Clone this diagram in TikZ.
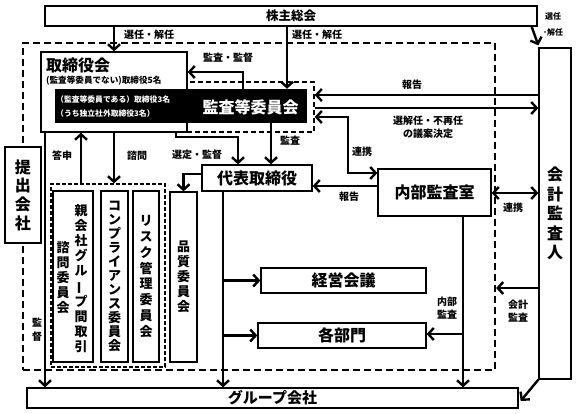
\documentclass[tikz,border=0pt]{standalone}
\usepackage{fontspec}
\setmainfont{Noto Sans CJK JP}
\usepackage{graphicx}
\usetikzlibrary{arrows.meta,calc}
\newcommand{\vbar}{\rotatebox[origin=c]{90}{ー}}
\tikzset{
  box/.style={draw, line width=1.3pt, fill=white, inner sep=0pt},
  arr/.style={line width=2.4pt, -{Straight Barb[length=5.5pt,width=12pt]}},
  darr/.style={line width=2.4pt, {Straight Barb[length=5.5pt,width=12pt]}-{Straight Barb[length=5.5pt,width=12pt]}},
  lbl/.style={font=\fontsize{10}{13}\selectfont\bfseries, inner sep=0pt, align=center},
  big/.style={font=\fontsize{16}{18}\selectfont\bfseries},
  vt/.style={align=center, font=\fontsize{13}{#1}\selectfont\bfseries},
  dbox/.style={draw, inner sep=0pt}
}
\begin{document}
\begin{tikzpicture}[x=1pt,y=-1pt]
\useasboundingbox (0,0) rectangle (576,413);
% helper coordinates
\coordinate (xb) at (287,0);
\coordinate (xd) at (243,0);
\coordinate (yd) at (0,72);
\coordinate (ye) at (0,95);
\coordinate (yf) at (0,108);
\coordinate (yg) at (0,117);
\coordinate (yg2) at (0,173);
\coordinate (xg) at (348,0);
\coordinate (xh1) at (176,0);
\coordinate (yh) at (0,137);
\coordinate (xh2) at (238,0);
\coordinate (xi) at (271,0);
\coordinate (yj) at (0,186);
\coordinate (yk) at (0,193);
\coordinate (yl) at (0,288);
\coordinate (xm) at (463,0);
\coordinate (ym) at (0,334);
\coordinate (xn) at (223,0);
\coordinate (yo) at (0,174);
\coordinate (xp) at (81,0);
\coordinate (xq) at (114,0);
\coordinate (xr) at (45,0);

% outer dashed frame
\node[dbox, line width=2.2pt, dash pattern=on 7pt off 4pt, minimum width=472pt, minimum height=327pt] (outer) at (259,206.5) {};

% boxes
\node[box, minimum width=492pt, minimum height=20pt, font=\fontsize{12.5}{14}\selectfont\bfseries] (kabu) at (291,16) {株主総会};
\node[box, minimum width=146pt, minimum height=80pt] (tori) at (114,92) {};
\node[anchor=west, big, inner sep=0pt] (toriT) at (46,65) {取締役会};
\node[anchor=west, inner sep=0pt, font=\fontsize{8.6}{10}\selectfont\bfseries] (toriS) at (46,81) {(監査等委員でない)取締役5名};
\node[dbox, line width=1.4pt, dash pattern=on 5pt off 3pt, minimum width=127pt, minimum height=50pt] (kdash) at (250.5,107) {};
\node[fill=black, inner sep=0pt, minimum width=252pt, minimum height=34pt] (kansa) at (181,106) {};
\node[anchor=west, inner sep=0pt, text=white, font=\fontsize{7.8}{9}\selectfont\bfseries] (ks1) at (56,100) {（監査等委員である）取締役3名};
\node[anchor=west, inner sep=0pt, text=white, font=\fontsize{7.8}{9}\selectfont\bfseries] (ks2) at (56,114) {（うち独立社外取締役3名）};
\node[text=white, big, inner sep=0pt] (kansaT) at (250.5,107) {監査等委員会};

\node[box, minimum width=32pt, minimum height=331pt, align=center, font=\fontsize{16}{19.5}\selectfont\bfseries] (kaikei) at (555,213.5) {会\\計\\監\\査\\人};
\node[box, minimum width=36pt, minimum height=96pt, align=center, font=\fontsize{16}{18.7}\selectfont\bfseries] (teishutsu) at (23,195) {提\\出\\会\\社};
\node[box, minimum width=113pt, minimum height=47pt, big] (naibu) at (434.5,192.5) {内部監査室};
\node[box, minimum width=110pt, minimum height=26pt, big] (daihyo) at (257,178) {代表取締役};
\node[box, minimum width=165pt, minimum height=25pt, big] (keiei) at (343.5,280.5) {経営会議};
\node[box, minimum width=168pt, minimum height=25pt, big] (kakubu) at (342,335.5) {各部門};
\node[box, minimum width=491pt, minimum height=20pt, font=\fontsize{15}{17}\selectfont\bfseries] (group) at (272.5,398) {グループ会社};

% committees
\node[dbox, line width=1.3pt, dash pattern=on 4pt off 2pt, minimum width=114pt, minimum height=183pt] (grp) at (108,275.5) {};
\node[box, minimum width=40pt, minimum height=171pt] (oya) at (73,276.5) {};
\node[vt=15.2, inner sep=0pt] (oyaR) at (81,278.5) {親\\会\\社\\グ\\ル\\\vbar\\プ\\間\\取\\引};
\node[vt=15.2, inner sep=0pt] (oyaL) at (63,277.5) {諮\\問\\委\\員\\会};
\node[box, minimum width=27pt, minimum height=171pt, vt=14] (comp) at (114.5,276.5) {コ\\ン\\プ\\ラ\\イ\\ア\\ン\\ス\\委\\員\\会};
\node[box, minimum width=26pt, minimum height=171pt, vt=15.9] (risk) at (146,276.5) {リ\\ス\\ク\\管\\理\\委\\員\\会};
\node[box, minimum width=27pt, minimum height=170pt, vt=15] (hinshitsu) at (183.5,277) {品\\質\\委\\員\\会};

% connectors
\draw[arr] (kabu.south -| tori.north) -- (tori.north);
\draw[arr] (kabu.south -| xb) -- (kansa.north -| xb);
\draw[arr] ([xshift=-6pt]kabu.south east) -- ([yshift=2pt]kaikei.north west);
\draw[arr] (kansa.north -| xd) -- (xd |- yd) -- (yd -| tori.east);
\draw[arr] (kaikei.west |- ye) -- (kdash.east |- ye);
\draw[arr] (kdash.east |- yf) -- (kaikei.west |- yf);
\draw[darr] (kdash.east |- yg) -- (xg |- yg) -- (xg |- yg2) -- (naibu.west |- yg2);
\draw[arr] (tori.south -| xh1) -- (xh1 |- yh) -- (xh2 |- yh) -- (daihyo.north -| xh2);
\draw[arr] (kansa.south -| xi) -- (daihyo.north -| xi);
\draw[arr] (naibu.west |- yj) -- (daihyo.east |- yj);
\draw[darr] (naibu.east |- yk) -- (kaikei.west |- yk);
\draw[arr] (kaikei.west |- yl) -- (outer.east |- yl);
\draw[arr] (naibu.south -| xm) -- (group.north -| xm);
\draw[arr] (xm |- ym) -- (kakubu.east |- ym);
\draw[arr] (daihyo.south -| xn) -- (group.north -| xn);
\draw[arr] (xn |- keiei.west) -- (keiei.west);
\draw[arr] (xn |- kakubu.west) -- (kakubu.west);
\draw[arr] (daihyo.west |- yo) -- (hinshitsu.north |- yo) -- (hinshitsu.north);
\draw[arr] (grp.north -| xp) -- (tori.south -| xp);
\draw[arr] (tori.south -| xq) -- (grp.north -| xq);
\draw[arr] (tori.south -| xr) -- (group.north -| xr);
\draw[arr] (kaikei.south west) -- ([xshift=2pt,yshift=-3pt]group.east);

% labels
\node[lbl] (l1) at (149,35) {選任・解任};
\node[lbl] (l2) at (317,35) {選任・解任};
\node[lbl, font=\fontsize{8}{16}\selectfont\bfseries] (l3) at (553,24) {選任\\･解任};
\node[lbl] (l4) at (228,58) {監査・監督};
\node[lbl] (l5) at (412,85) {報告};
\node[lbl] (l6) at (428,127) {選解任・不再任\\の議案決定};
\node[lbl] (l7) at (362,152) {連携};
\node[lbl] (l8) at (197,155) {選定・監督};
\node[lbl] (l9) at (290,141) {監査};
\node[lbl] (l10) at (349,197) {報告};
\node[lbl] (l11) at (513,208) {連携};
\node[lbl] (l12) at (518,311) {会計\\監査};
\node[lbl] (l13) at (447,308) {内部\\監査};
\node[lbl] (l14) at (62,156) {答申};
\node[lbl] (l15) at (137,156) {諮問};
\node[lbl, font=\fontsize{10}{14}\selectfont\bfseries] (l16) at (37,330) {監\\督};
\end{tikzpicture}
\end{document}
